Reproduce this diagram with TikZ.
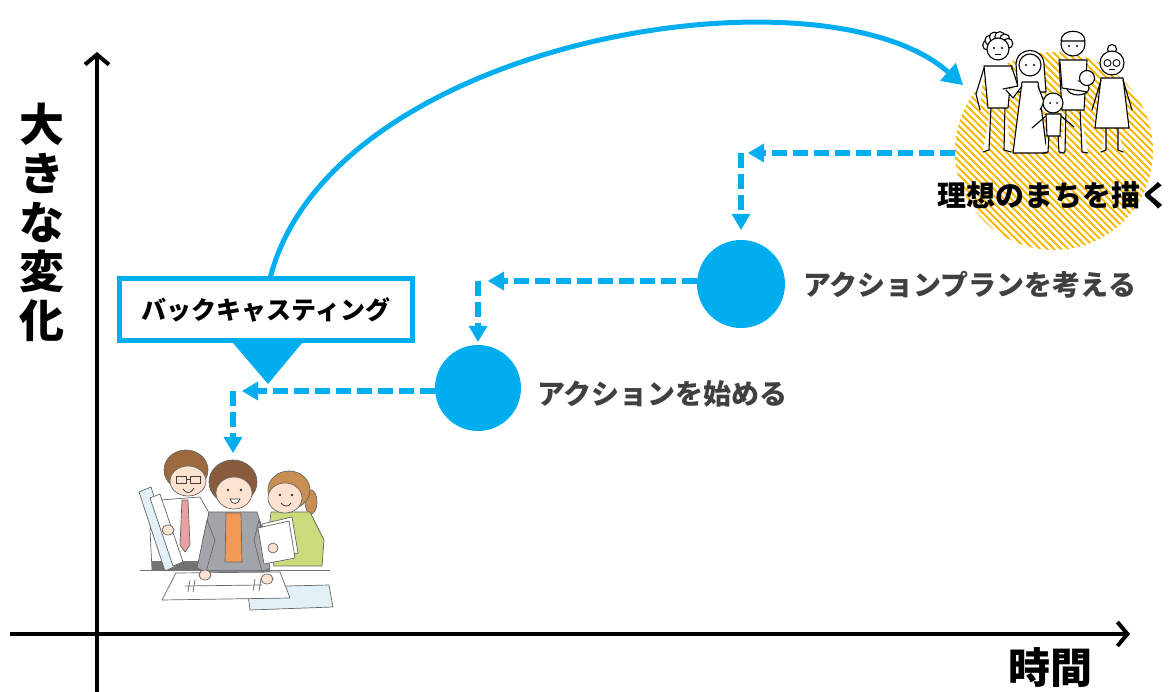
\documentclass[tikz,border=0pt]{standalone}
\usepackage{fontspec}
\setmainfont{Noto Sans CJK JP}
\usetikzlibrary{arrows.meta,calc}
\definecolor{sky}{HTML}{00AEEF}
\definecolor{hatchc}{HTML}{F9B800}
\definecolor{labelgray}{HTML}{404040}
\definecolor{skin}{HTML}{FDE3CF}
\definecolor{hairA}{HTML}{9C6A3E}
\definecolor{hairB}{HTML}{875B3C}
\definecolor{hairC}{HTML}{C88E52}
\definecolor{jacket}{HTML}{A2A6AA}
\definecolor{inner}{HTML}{F29A55}
\definecolor{cardigan}{HTML}{CADB7C}
\definecolor{tie}{HTML}{E9A0A0}
\definecolor{roll}{HTML}{E2F0F7}
\definecolor{sheet}{HTML}{E3F1F7}
\begin{document}
\begin{tikzpicture}[x=1pt,y=-1pt,
  axis/.style={line width=4pt,-{Straight Barb[length=10pt,width=24pt]}},
  dasharrow/.style={draw=sky,line width=5.5pt,dash pattern=on 15pt off 6pt,
    -{Triangle[length=16pt,width=19pt,line width=0pt]}},
  bigarrow/.style={draw=sky,line width=5pt,-{Triangle[length=20pt,width=24pt,line width=0pt]}},
  milestone/.style={circle,fill=sky,inner sep=0pt},
  steplabel/.style={anchor=west,text=labelgray,font=\bfseries\fontsize{28pt}{30pt}\selectfont,inner sep=0pt},
  fig/.style={draw=black,line width=1.1pt,fill=white,line join=round,line cap=round},
  outl/.style={draw=black!60,line width=0.7pt,line join=round},
  hatchline/.style={draw=hatchc,line width=2pt}]

\useasboundingbox (0,0) rectangle (1171,692);

% ---------- axes ----------
\coordinate (ybot) at (97,692);
\coordinate (ytop) at (97,52);
\coordinate (xl) at (10,634);
\coordinate (xr) at (1130,634);
\draw[axis] (ybot) -- (ytop);
\draw[axis] (xl) -- (xr);
\node[font=\bfseries\fontsize{45pt}{49pt}\selectfont,align=center,inner sep=0pt] (ylab) at (42,222) {大\\き\\な\\変\\化};
\node[font=\bfseries\fontsize{42pt}{44pt}\selectfont,inner sep=0pt] (xlab) at (1050,668) {時間};

% ---------- goal: hatched circle ----------
\node[circle,minimum size=198pt,inner sep=0pt,
  path picture={
    \foreach \i in {-154,-147,...,154}{
      \draw[hatchline] ([xshift=\i pt-112pt,yshift=112pt]path picture bounding box.center) -- ++(224pt,-224pt);
    }}] (goal) at (1054,151) {};

% family line drawing
% old man
\draw[fig] (991,106) -- (989,150) -- (983,152);
\draw[fig] (1005,106) -- (1004,150) -- (1011,152);
\draw[fig] (984,66) -- (1012,66) -- (1008,108) -- (988,108) -- cycle;
\draw[fig] (984,68) -- (976,94) -- (980,110);
\draw[fig] (1012,68) -- (1018,86) -- (1003,89);
\foreach \a in {190,220,250,280,310,340}{\draw[fig] ($(998,47)+(\a:10.5)$) circle[radius=5];}
\draw[fig] (998,49) circle[radius=11];
\fill (994,48) circle[radius=1.1] (1002,48) circle[radius=1.1];
\draw[line width=1pt] (995,55) -- (1001,55);
% man with baby
\draw[fig] (1066,108) -- (1065,152) -- (1060,153);
\draw[fig] (1080,108) -- (1082,152) -- (1088,153);
\draw[fig] (1059,60) -- (1087,60) -- (1084,110) -- (1062,110) -- cycle;
\draw[fig] (1073,44) circle[radius=12];
\draw[fig] (1061,41) .. controls (1061,28) and (1085,28) .. (1085,41) -- (1061,41) -- cycle;
\fill (1069,46) circle[radius=1.1] (1077,46) circle[radius=1.1];
\draw[fig] (1078,88) ellipse[x radius=11,y radius=7];
\draw[fig] (1087,78) circle[radius=7.5];
\draw[fig] (1060,62) -- (1062,88) -- (1088,92);
% woman with long hair
\draw[fig] (1018,92) -- (1016,64) .. controls (1017,46) and (1043,46) .. (1044,64) -- (1046,92) -- cycle;
\draw[fig] (1022,82) -- (1038,82) -- (1047,153) -- (1013,153) -- cycle;
\draw[fig] (1030,65) circle[radius=11];
\fill (1026,65) circle[radius=1.1] (1034,65) circle[radius=1.1];
\draw[fig] (1022,86) -- (1013,98) -- (1006,90);
\draw[fig] (1038,86) -- (1044,102) -- (1040,110);
% old woman with glasses
\draw[fig] (1112,49) circle[radius=4.5];
\draw[fig] (1106,128) -- (1106,150) -- (1101,152);
\draw[fig] (1118,128) -- (1118,150) -- (1123,152);
\draw[fig] (1101,78) -- (1123,78) -- (1129,128) -- (1095,128) -- cycle;
\draw[fig] (1101,80) -- (1092,110);
\draw[fig] (1123,80) -- (1132,110);
\draw[fig] (1112,63) circle[radius=12];
\draw[line width=0.9pt] (1107.5,63) circle[radius=3.5] (1116.5,63) circle[radius=3.5];
\draw[line width=1pt] (1109,70) -- (1115,70);
% child in front
\draw[fig] (1049,134) -- (1048,152) -- (1043,153);
\draw[fig] (1058,134) -- (1059,152) -- (1064,153);
\draw[fig] (1046,114) -- (1061,114) -- (1060,136) -- (1047,136) -- cycle;
\draw[fig] (1046,116) -- (1032,128);
\draw[fig] (1061,116) -- (1074,127);
\draw[fig] (1053,103) circle[radius=10];
\fill (1050,103) circle[radius=1] (1057,103) circle[radius=1];

\node[font=\bfseries\fontsize{29pt}{31pt}\selectfont,inner sep=0pt] (goallab) at (1053,195) {理想のまちを描く};

% ---------- milestones ----------
\node[milestone,minimum size=88pt] (plan) at (741,284) {};
\node[milestone,minimum size=86pt] (act) at (478,388) {};
\node[steplabel] (planlab) at (803,285) {アクションプランを考える};
\node[steplabel] (actlab) at (537,394) {アクションを始める};

% ---------- team illustration ----------
% man with glasses and rolled plans
\filldraw[outl,fill=white] (160,500) -- (200,497) -- (213,520) -- (212,570) -- (152,570) -- (150,530) -- cycle;
\fill[black!55] (152,561) -- (205,561) -- (205,570) -- (152,570) -- cycle;
\filldraw[outl,fill=tie] (182,500) -- (188,500) -- (190,545) -- (185,552) -- (180,545) -- cycle;
\filldraw[outl,fill=roll] (139,492) -- (151,487) -- (176,566) -- (165,571) -- cycle;
\filldraw[outl,fill=white] (150,498) -- (160,494) -- (183,562) -- (173,566) -- cycle;
\filldraw[outl,fill=skin] (168,530) ellipse[x radius=6,y radius=5];
\filldraw[outl,fill=hairA] (186,470) ellipse[x radius=22,y radius=20];
\filldraw[outl,fill=skin] (188,481) ellipse[x radius=18,y radius=15];
\draw[black!75,line width=0.9pt] (176,476) rectangle (186,483) (190,476) rectangle (200,483) (186,479) -- (190,479);
\draw[black!75,line width=0.8pt] (183,489) .. controls (186,494) and (191,494) .. (194,488);
% middle woman in grey jacket
\filldraw[outl,fill=jacket] (209,512) -- (257,512) -- (266,540) -- (270,572) -- (202,572) -- (203,540) -- cycle;
\filldraw[outl,fill=inner] (226,513) -- (241,513) -- (242,562) -- (225,562) -- cycle;
\filldraw[outl,fill=jacket] (207,520) -- (197,568) -- (206,572) -- (215,540) -- cycle;
\filldraw[outl,fill=jacket] (259,520) -- (270,568) -- (262,572) -- (254,540) -- cycle;
\filldraw[outl,fill=hairB] (233,482) ellipse[x radius=24,y radius=22];
\filldraw[outl,fill=skin] (234,493) ellipse[x radius=18,y radius=16];
\fill[black!80] (228,490) circle[radius=1.4] (241,490) circle[radius=1.4];
\filldraw[black!75,fill=white,line width=0.7pt] (230,499) .. controls (232,505) and (238,505) .. (240,499) -- cycle;
% right woman in green cardigan
\filldraw[outl,fill=hairC] (311,502) ellipse[x radius=6,y radius=12];
\filldraw[outl,fill=cardigan] (271,512) -- (310,512) -- (324,540) -- (322,566) -- (274,566) -- (268,540) -- cycle;
\filldraw[outl,fill=white] (262,524) -- (292,517) -- (298,553) -- (268,559) -- cycle;
\filldraw[outl,fill=white] (258,528) -- (289,521) -- (295,558) -- (264,564) -- cycle;
\filldraw[outl,fill=skin] (273,548) ellipse[x radius=5,y radius=5];
\filldraw[outl,fill=hairC] (289,490) ellipse[x radius=21,y radius=19];
\filldraw[outl,fill=skin] (285,498) ellipse[x radius=17,y radius=15];
\fill[black!80] (280,495) circle[radius=1.3] (292,495) circle[radius=1.3];
\draw[black!75,line width=0.8pt] (281,503) .. controls (284,507) and (289,507) .. (291,503);
% table and plans
\draw[black!55,line width=0.8pt] (140,570) -- (330,570);
\filldraw[outl,fill=sheet] (247,587) -- (329,585) -- (333,607) -- (250,610) -- cycle;
\filldraw[outl,fill=white] (176,573) -- (280,572) -- (290,598) -- (162,600) -- cycle;
\draw[black!60,line width=0.7pt] (185,586) -- (262,585)
  (190,580) -- (188,592) (195,580) -- (193,592) (255,579) -- (253,591) (261,579) -- (259,591);
\filldraw[outl,fill=skin] (205,575) ellipse[x radius=6,y radius=5];
\filldraw[outl,fill=skin] (267,579) ellipse[x radius=6,y radius=5];
\coordinate (team) at (233,453);

% ---------- backcasting label ----------
\draw[bigarrow] ($(266,278.5)+(4,0)$) .. controls (330,40) and (820,-40) .. (963,85);
\node[draw=sky,line width=5pt,fill=white,minimum width=293pt,minimum height=62pt,inner sep=0pt,
  font=\bfseries\fontsize{25pt}{27pt}\selectfont] (bc) at (266,309.5) {バックキャスティング};
\fill[sky] ($(bc.south)+(-33,0)$) -- ($(bc.south)+(36,0)$) -- ($(bc.south)+(2,41)$) -- cycle;

% ---------- dashed backcasting steps ----------
\coordinate (k1) at (741,153);
\coordinate (k2) at (478,281);
\coordinate (k3) at (233,391);
\draw[dasharrow] (goal.west |- k1) -- ($(k1)+(7,0)$);
\draw[dasharrow,shorten >=10pt] (k1) -- (plan);
\draw[dasharrow] (plan.west |- k2) -- ($(k2)+(10,0)$);
\draw[dasharrow,shorten >=3pt] (k2) -- (act);
\draw[dasharrow] (act.west |- k3) -- ($(k3)+(9,0)$);
\draw[dasharrow] (k3) -- (team);
\end{tikzpicture}
\end{document}
